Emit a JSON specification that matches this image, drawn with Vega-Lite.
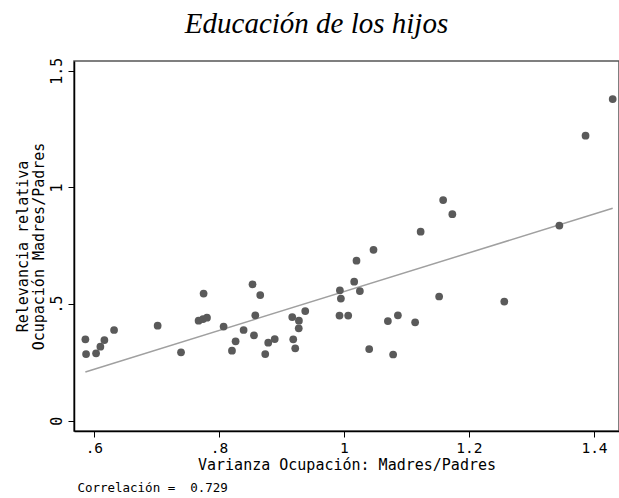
{
  "$schema": "https://vega.github.io/schema/vega-lite/v6.json",
  "width": 545,
  "height": 370,
  "autosize": {"type": "none"},
  "padding": {"left": 74, "top": 61, "right": 0, "bottom": 67},
  "background": "white",
  "config": {
    "view": {"stroke": "#555", "strokeWidth": 1.5},
    "font": "DejaVu Sans Mono"
  },
  "title": {
    "text": "Educación de los hijos",
    "font": "Liberation Serif",
    "fontStyle": "italic",
    "fontWeight": "normal",
    "fontSize": 29,
    "color": "#000",
    "anchor": "middle",
    "frame": "group",
    "baseline": "alphabetic",
    "offset": 28,
    "dx": -30,
    "dy": 33
  },
  "data": {
    "values": [
      {"varianza": 0.5864, "relevancia": 0.3489},
      {"varianza": 0.5875, "relevancia": 0.2859},
      {"varianza": 0.6035, "relevancia": 0.2889},
      {"varianza": 0.6104, "relevancia": 0.3172},
      {"varianza": 0.6168, "relevancia": 0.3459},
      {"varianza": 0.6323, "relevancia": 0.3888},
      {"varianza": 0.7020, "relevancia": 0.4072},
      {"varianza": 0.7394, "relevancia": 0.2932},
      {"varianza": 0.7675, "relevancia": 0.4286},
      {"varianza": 0.7746, "relevancia": 0.4359},
      {"varianza": 0.7809, "relevancia": 0.4415},
      {"varianza": 0.7755, "relevancia": 0.5452},
      {"varianza": 0.8075, "relevancia": 0.4038},
      {"varianza": 0.8538, "relevancia": 0.5846},
      {"varianza": 0.8661, "relevancia": 0.5388},
      {"varianza": 0.8582, "relevancia": 0.4518},
      {"varianza": 0.8395, "relevancia": 0.3888},
      {"varianza": 0.8267, "relevancia": 0.3403},
      {"varianza": 0.8209, "relevancia": 0.3000},
      {"varianza": 0.8561, "relevancia": 0.3661},
      {"varianza": 0.8789, "relevancia": 0.3343},
      {"varianza": 0.8893, "relevancia": 0.3502},
      {"varianza": 0.8741, "relevancia": 0.2859},
      {"varianza": 0.9173, "relevancia": 0.4445},
      {"varianza": 0.9280, "relevancia": 0.4286},
      {"varianza": 0.9277, "relevancia": 0.3961},
      {"varianza": 0.9381, "relevancia": 0.4702},
      {"varianza": 0.9189, "relevancia": 0.3489},
      {"varianza": 0.9221, "relevancia": 0.3103},
      {"varianza": 0.9935, "relevancia": 0.5589},
      {"varianza": 0.9951, "relevancia": 0.5238},
      {"varianza": 0.9929, "relevancia": 0.4509},
      {"varianza": 1.0068, "relevancia": 0.4509},
      {"varianza": 1.0164, "relevancia": 0.5958},
      {"varianza": 1.0255, "relevancia": 0.5559},
      {"varianza": 1.0201, "relevancia": 0.6858},
      {"varianza": 1.0473, "relevancia": 0.7325},
      {"varianza": 1.0404, "relevancia": 0.3073},
      {"varianza": 1.0703, "relevancia": 0.4273},
      {"varianza": 1.0863, "relevancia": 0.4518},
      {"varianza": 1.0787, "relevancia": 0.2838},
      {"varianza": 1.1139, "relevancia": 0.4218},
      {"varianza": 1.1523, "relevancia": 0.5324},
      {"varianza": 1.2565, "relevancia": 0.5109},
      {"varianza": 1.1227, "relevancia": 0.8101},
      {"varianza": 1.1587, "relevancia": 0.9460},
      {"varianza": 1.1734, "relevancia": 0.8851},
      {"varianza": 1.3446, "relevancia": 0.8367},
      {"varianza": 1.3865, "relevancia": 1.2216},
      {"varianza": 1.4299, "relevancia": 1.3789}
    ]
  },
  "layer": [
    {
      "transform": [{"regression": "relevancia", "on": "varianza"}],
      "mark": {"type": "line", "color": "#a0a0a0", "strokeWidth": 1.5},
      "encoding": {
        "x": {
          "field": "varianza",
          "type": "quantitative",
          "scale": {"domain": [0.5682, 1.44], "nice": false, "zero": false},
          "axis": {
            "values": [0.6, 0.8, 1, 1.2, 1.4],
            "labelExpr": "datum.value > 0 && datum.value < 1 ? substring(format(datum.value, '~g'), 1) : format(datum.value, '~g')",
            "title": "Varianza Ocupación: Madres/Padres",
            "grid": false,
            "domainColor": "#000",
            "domainWidth": 1.5,
            "tickColor": "#000",
            "tickSize": 6,
            "labelFont": "DejaVu Sans Mono",
            "labelFontSize": 14.5,
            "labelColor": "#000",
            "labelPadding": 4,
            "titleFont": "DejaVu Sans Mono",
            "titleFontSize": 15,
            "titleFontWeight": "normal",
            "titleColor": "#000",
            "titlePadding": 3
          }
        },
        "y": {
          "field": "relevancia",
          "type": "quantitative",
          "scale": {"domain": [-0.0441, 1.5418], "nice": false, "zero": false},
          "axis": {
            "values": [0, 0.5, 1, 1.5],
            "labelExpr": "datum.value > 0 && datum.value < 1 ? substring(format(datum.value, '~g'), 1) : format(datum.value, '~g')",
            "title": ["Relevancia relativa", "Ocupación Madres/Padres"],
            "grid": false,
            "domainColor": "#000",
            "domainWidth": 1.5,
            "tickColor": "#000",
            "tickSize": 6,
            "labelAngle": -90,
            "labelAlign": "center",
            "labelBaseline": "alphabetic",
            "labelPadding": 7,
            "labelFont": "DejaVu Sans Mono",
            "labelFontSize": 15,
            "labelColor": "#000",
            "titleFont": "DejaVu Sans Mono",
            "titleFontSize": 15,
            "titleFontWeight": "normal",
            "titleColor": "#000",
            "titleLineHeight": 16,
            "titlePadding": 3
          }
        }
      }
    },
    {
      "mark": {"type": "circle", "color": "#5a5a5a", "opacity": 1, "size": 60},
      "encoding": {
        "x": {"field": "varianza", "type": "quantitative"},
        "y": {"field": "relevancia", "type": "quantitative"}
      }
    },
    {
      "data": {"values": [{"nota": "Correlación = \u00a00.729"}]},
      "mark": {"type": "text", "font": "DejaVu Sans Mono", "fontSize": 12.5, "align": "left", "baseline": "alphabetic", "color": "#000", "clip": false},
      "encoding": {
        "x": {"datum": 0.5736, "type": "quantitative"},
        "y": {"datum": -0.3056, "type": "quantitative"},
        "text": {"field": "nota", "type": "nominal"}
      }
    }
  ]
}
